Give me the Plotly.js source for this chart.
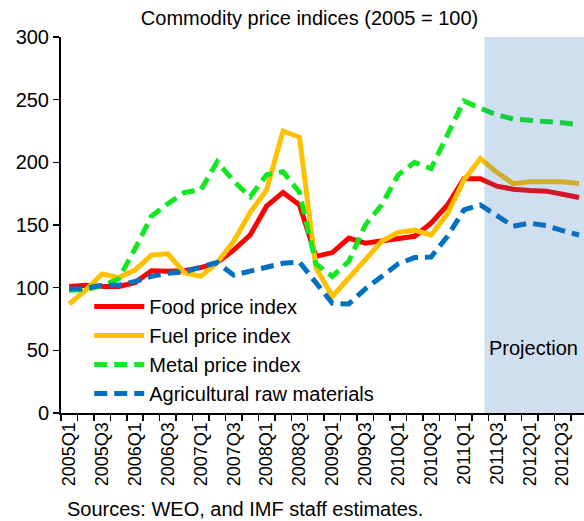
<!DOCTYPE html>
<html><head><meta charset="utf-8">
<script src="https://cdn.plot.ly/plotly-3.0.1.min.js"></script>
<style>html,body{margin:0;padding:0;background:#fff;overflow:hidden}</style>
</head><body><div id="chart" style="width:584px;height:521px"></div>
<script>
const quarters = ["2005Q1","2005Q2","2005Q3","2005Q4","2006Q1","2006Q2","2006Q3","2006Q4",
  "2007Q1","2007Q2","2007Q3","2007Q4","2008Q1","2008Q2","2008Q3","2008Q4",
  "2009Q1","2009Q2","2009Q3","2009Q4","2010Q1","2010Q2","2010Q3","2010Q4",
  "2011Q1","2011Q2","2011Q3","2011Q4","2012Q1","2012Q2","2012Q3","2012Q4"];
const food  = [101,102,101,101,104,113.5,113,113.5,116,120,130,142,165,176,166,125,128,139.5,135.5,137.5,140,141,151.5,166,187,187,181,178.5,177.5,177,174.5,172];
const fuel  = [87,98,111,108,114,126,127,112,109,120,137,160,178,225,220,116,93,108,122,137,144,146,142,159,186,203,192,183,184.5,184.5,184.5,183];
const metal = [98,98.5,101.5,107,131,157,167,176,178,200.5,185,172.5,190,192.5,176,119,109,121,150,166,190,200,195,222,249,243,238,234.5,234,232.5,231.5,230];
const agri  = [99,99.5,102,102,105,109,111.5,112.5,116.5,120,110,113.5,117,119.5,120.5,104,87.5,87,99,109,119,124,124.5,141,162,166,157,149,151.5,149.5,145.5,142];
const seriesNames = ["Food price index","Fuel price index","Metal price index","Agricultural raw materials"];
const tickLabels = ["2005Q1","2005Q3","2006Q1","2006Q3","2007Q1","2007Q3","2008Q1","2008Q3",
  "2009Q1","2009Q3","2010Q1","2010Q3","2011Q1","2011Q3","2012Q1","2012Q3"];
const yTicks = [0,50,100,150,200,250,300];
const titleText = "Commodity price indices (2005 = 100)";
const sourceText = "Sources: WEO, and IMF staff estimates.";
const projectionText = "Projection";

const idx = quarters.map((q, i) => i);
const tickVals = tickLabels.map(t => quarters.indexOf(t));

const traces = [
  {x: idx, y: food, name: seriesNames[0], mode: "lines", line: {color: "#ff0000", width: 5}},
  {x: idx, y: fuel, name: seriesNames[1], mode: "lines", line: {color: "#ffc000", width: 5}},
  {x: idx, y: metal, name: seriesNames[2], mode: "lines", line: {color: "#10e820", width: 5, dash: "13px,7px"}},
  {x: idx, y: agri, name: seriesNames[3], mode: "lines", line: {color: "#0070c0", width: 5, dash: "13px,7px"}}
];

const layout = {
  width: 584, height: 521,
  margin: {l: 61, r: 0, t: 37, b: 108, pad: 0},
  paper_bgcolor: "#fff", plot_bgcolor: "#fff",
  font: {family: "Liberation Sans, Arial, sans-serif", size: 20, color: "#000"},
  title: {text: titleText, x: 0.53, xanchor: "center", xref: "container", y: 0.965, yanchor: "middle", yref: "container", font: {size: 20}},
  showlegend: true,
  legend: {x: 0.054, y: 0.335, xanchor: "left", yanchor: "top", bgcolor: "rgba(0,0,0,0)", font: {size: 20}, itemwidth: 50, tracegroupgap: 0},
  xaxis: {
    range: [-0.5, 31.3], tickmode: "array", tickvals: tickVals, ticktext: tickLabels,
    tickangle: -90, ticks: "", showline: true, linecolor: "#000", linewidth: 2,
    showgrid: false, zeroline: false, tickfont: {size: 18},
    minor: {tickmode: "linear", tick0: -0.5, dtick: 1, ticks: "outside", ticklen: 6, tickwidth: 1.5, tickcolor: "#000", showgrid: false}
  },
  yaxis: {
    range: [0, 300], tickmode: "array", tickvals: yTicks, ticks: "outside", ticklen: 6, tickwidth: 1.5, tickcolor: "#000",
    showline: true, linecolor: "#000", linewidth: 2, showgrid: false, zeroline: false, tickfont: {size: 20}
  },
  shapes: [{type: "rect", xref: "x", yref: "paper", x0: 25.25, x1: 31.3, y0: 0, y1: 1,
    fillcolor: "rgba(40,110,180,0.22)", line: {width: 0}, layer: "above"}],
  annotations: [
    {text: projectionText, xref: "x", yref: "y", x: 28.25, y: 52, showarrow: false, font: {size: 20}},
    {text: sourceText, xref: "paper", yref: "paper", x: 0.008, y: -0.255, xanchor: "left", yanchor: "middle", showarrow: false, font: {size: 20}}
  ]
};

Plotly.newPlot("chart", traces, layout, {displayModeBar: false, staticPlot: true});
</script></body></html>
